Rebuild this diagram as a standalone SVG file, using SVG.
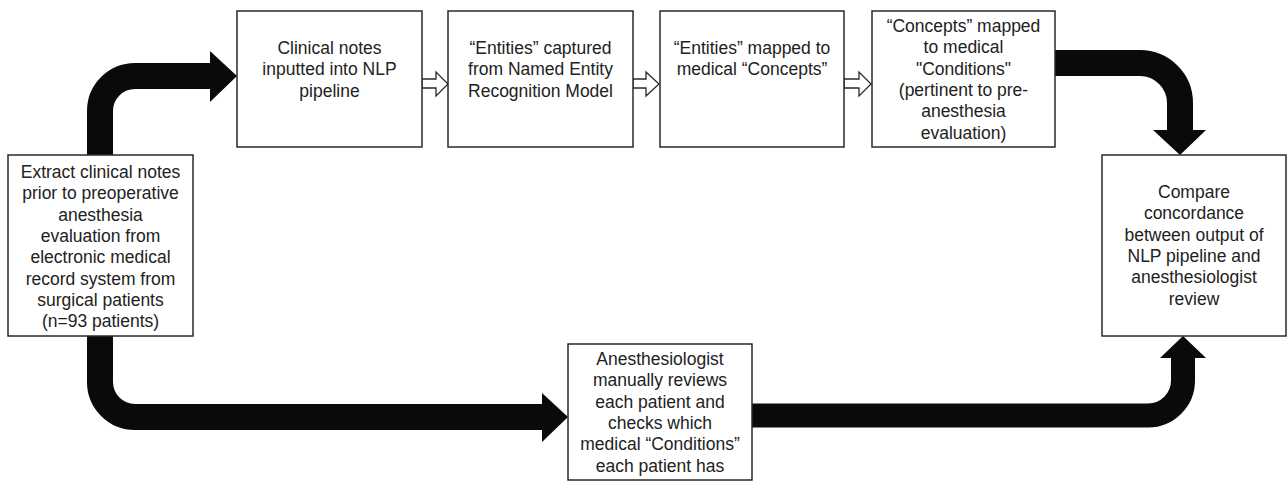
<svg xmlns="http://www.w3.org/2000/svg" width="1288" height="483" viewBox="0 0 1288 483">
<style>
.box{fill:#fff;stroke:#2a2a2a;stroke-width:1.5}
.t{font-family:"Liberation Sans",Arial,sans-serif;font-size:17.5px;fill:#222;text-anchor:middle}
.thick{fill:none;stroke:#0a0a0a;stroke-width:26}
.head{fill:#0a0a0a}
.hollow{fill:#fff;stroke:#2a2a2a;stroke-width:1.3;stroke-linejoin:miter}
</style>
<g id="connectors">
<path class="thick" d="M100,155 V111 A35,35 0 0 1 135,76 H212"/>
<polygon class="head" points="210,51 237,76 210,102"/>
<path class="thick" d="M100,336 V382 A35,35 0 0 0 135,417 H544"/>
<polygon class="head" points="542,393 568,417 542,442"/>
<path class="thick" style="stroke-width:24" d="M752,415.5 H1148 A35,35 0 0 0 1183,380.5 V356"/>
<polygon class="head" points="1160,358 1183,336 1206,358"/>
<path class="thick" d="M1055,63 H1140 A40,40 0 0 1 1180,103 V132"/>
<polygon class="head" points="1153,130 1180,155 1206,130"/>
<path class="hollow" d="M422,79 H436 V72 L448,84 L436,96 V88 H422 Z"/>
<path class="hollow" d="M633,79 H646 V72 L659,84 L646,96 V88 H633 Z"/>
<path class="hollow" d="M844,79 H859 V72 L871,84 L859,96 V88 H844 Z"/>
</g>
<g id="extract">
<rect class="box" x="8" y="155" width="185" height="181"/>
<text class="t" x="100.5" y="178">Extract clinical notes</text>
<text class="t" x="100.5" y="199.3">prior to preoperative</text>
<text class="t" x="100.5" y="220.6">anesthesia</text>
<text class="t" x="100.5" y="241.9">evaluation from</text>
<text class="t" x="100.5" y="263.2">electronic medical</text>
<text class="t" x="100.5" y="284.5">record system from</text>
<text class="t" x="100.5" y="305.8">surgical patients</text>
<text class="t" x="100.5" y="327.1">(n=93 patients)</text>
</g>
<g id="nlp-input">
<rect class="box" x="237" y="11" width="185" height="136"/>
<text class="t" x="329.5" y="53.5">Clinical notes</text>
<text class="t" x="329.5" y="75">inputted into NLP</text>
<text class="t" x="329.5" y="96.5">pipeline</text>
</g>
<g id="entities">
<rect class="box" x="448" y="11" width="185" height="136"/>
<text class="t" x="540.5" y="53.5">“Entities” captured</text>
<text class="t" x="540.5" y="75">from Named Entity</text>
<text class="t" x="540.5" y="96.5">Recognition Model</text>
</g>
<g id="concepts">
<rect class="box" x="660" y="11" width="184" height="136"/>
<text class="t" x="752" y="53.5">“Entities” mapped to</text>
<text class="t" x="752" y="75">medical “Concepts”</text>
</g>
<g id="conditions">
<rect class="box" x="872" y="11" width="183" height="136"/>
<text class="t" x="963.5" y="32">“Concepts” mapped</text>
<text class="t" x="963.5" y="53.3">to medical</text>
<text class="t" x="963.5" y="74.6">"Conditions"</text>
<text class="t" x="963.5" y="96">(pertinent to pre-</text>
<text class="t" x="963.5" y="117.2">anesthesia</text>
<text class="t" x="963.5" y="138.5">evaluation)</text>
</g>
<g id="compare">
<rect class="box" x="1102" y="155" width="184" height="181"/>
<text class="t" x="1194" y="198">Compare</text>
<text class="t" x="1194" y="219.3">concordance</text>
<text class="t" x="1194" y="240.6">between output of</text>
<text class="t" x="1194" y="262">NLP pipeline and</text>
<text class="t" x="1194" y="283.2">anesthesiologist</text>
<text class="t" x="1194" y="304.5">review</text>
</g>
<g id="review">
<rect class="box" x="568" y="344" width="184" height="136"/>
<text class="t" x="660" y="365">Anesthesiologist</text>
<text class="t" x="660" y="386.3">manually reviews</text>
<text class="t" x="660" y="407.6">each patient and</text>
<text class="t" x="660" y="428.9">checks which</text>
<text class="t" x="660" y="450.2">medical “Conditions”</text>
<text class="t" x="660" y="471.5">each patient has</text>
</g>
</svg>
